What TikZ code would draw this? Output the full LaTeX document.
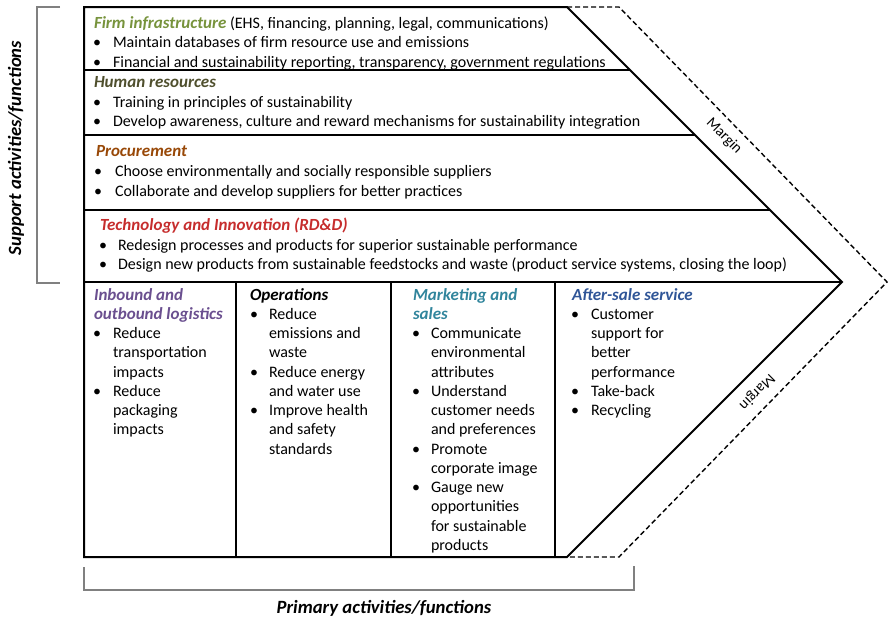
\documentclass[tikz,border=0pt]{standalone}
\usepackage{fontspec}
\setmainfont{Carlito}
\definecolor{cfirm}{HTML}{77933C}
\definecolor{chr}{HTML}{4F4F2D}
\definecolor{cproc}{HTML}{984807}
\definecolor{ctech}{HTML}{C62D2D}
\definecolor{cinb}{HTML}{6A4F8F}
\definecolor{cmkt}{HTML}{31859C}
\definecolor{caft}{HTML}{2F5597}
\definecolor{cbrk}{HTML}{808080}
\newcommand\tlines[5]{\foreach \t [count=\i from 0] in {#5} {\node[txt] (#1\i) at (#2,{#3+#4*\i}) {\t};}}
\newcommand\bulat[4]{\foreach \k in {#4} {\node[bul] (#1b\k) at (#2,{#3+19.25*\k}) {\textbullet};}}
\newcommand\ttlfont{\fontsize{17}{19}\selectfont\bfseries\itshape}
\begin{document}
\begin{tikzpicture}[x=1pt,y=-1pt,
  font=\fontsize{16}{19}\selectfont,
  txt/.style={anchor=base west,inner sep=0pt,outer sep=0pt},
  bul/.style={anchor=base,inner sep=0pt,outer sep=0pt},
  ttl/.style={txt,font=\ttlfont},
  frame/.style={line width=2pt,line join=miter},
  marg/.style={line width=1.4pt,dash pattern=on 5pt off 3pt},
  brk/.style={line width=1.2pt,cbrk},
  lab/.style={inner sep=0pt,font=\fontsize{18.7}{21}\selectfont\bfseries\itshape}]
\useasboundingbox (0,0) rectangle (888,619);
% named corners
\coordinate (tl) at (84,7);
\coordinate (tr) at (567,7);
\coordinate (ap) at (842,282);
\coordinate (br) at (567,557);
\coordinate (bl) at (84,557);
\coordinate (dtr) at (619,7);
\coordinate (dap) at (887,282);
\coordinate (dbr) at (619,557);
% margin dashed outline
\draw[marg] (tr) -- (dtr) -- (dap) -- (dbr) -- (br);
% main frame
\draw[frame] (tl) -- (tr) -- (ap) -- (br) -- (bl) -- cycle;
\coordinate (l1) at (84,70);  \coordinate (r1) at (630,70);
\coordinate (l2) at (84,135); \coordinate (r2) at (695,135);
\coordinate (l3) at (84,210); \coordinate (r3) at (770,210);
\coordinate (l4) at (84,282);
\draw[frame] (l1) -- (r1);
\draw[frame] (l2) -- (r2);
\draw[frame] (l3) -- (r3);
\draw[frame] (l4) -- (ap);
\foreach \x in {236,391,555} {\draw[frame] (\x,282) -- (\x,557);}
% brackets
\coordinate (sb1) at (60,7); \coordinate (sb2) at (37,7);
\coordinate (sb3) at (37,283); \coordinate (sb4) at (60,283);
\draw[brk] (sb1) -- (sb2) -- (sb3) -- (sb4);
\coordinate (pb1) at (84,567); \coordinate (pb2) at (84,590);
\coordinate (pb3) at (634,590); \coordinate (pb4) at (634,566);
\draw[brk] (pb1) -- (pb2) -- (pb3) -- (pb4);
\node[lab,anchor=base,rotate=90] (supp) at (21,148) {Support activities/functions};
\node[lab,anchor=base] (prim) at (384,613) {Primary activities/functions};
% margin labels
\node[inner sep=0pt,rotate=-45,font=\fontsize{15}{17}\selectfont] (m1) at (724,136) {Margin};
\node[inner sep=0pt,rotate=-135,font=\fontsize{15}{17}\selectfont] (m2) at (757,392) {Margin};
% firm infrastructure
\node[txt] (firmT) at (94,28) {\textcolor{cfirm}{\ttlfont Firm infrastructure} (EHS, financing, planning, legal, communications)};
\tlines{firm}{113}{47.5}{19.5}{{Maintain databases of firm resource use and emissions},{Financial and sustainability reporting, transparency, government regulations}}
\foreach \k/\y in {0/47.5,1/67} {\node[bul] (firmb\k) at (97,\y) {\textbullet};}
% human resources
\node[ttl,text=chr] (hrT) at (94,87) {Human resources};
\tlines{hr}{113}{107}{19.5}{{Training in principles of sustainability},{Develop awareness, culture and reward mechanisms for sustainability integration}}
\foreach \k/\y in {0/107,1/126.5} {\node[bul] (hrb\k) at (97,\y) {\textbullet};}
% procurement
\node[ttl,text=cproc] (prT) at (96,156.5) {Procurement};
\tlines{pr}{115}{176.5}{19.5}{{Choose environmentally and socially responsible suppliers},{Collaborate and develop suppliers for better practices}}
\foreach \k/\y in {0/176.5,1/196} {\node[bul] (prb\k) at (98,\y) {\textbullet};}
% technology
\node[ttl,text=ctech] (teT) at (100,230.5) {Technology and Innovation (RD\&D)};
\tlines{te}{118}{250}{19.5}{{Redesign processes and products for superior sustainable performance},{Design new products from sustainable feedstocks and waste (product service systems, closing the loop)}}
\foreach \k/\y in {0/250,1/269.5} {\node[bul] (teb\k) at (103,\y) {\textbullet};}
% inbound
\tlines{inbT}{94}{300}{19.25}{{\ttlfont\color{cinb}Inbound and},{\ttlfont\color{cinb}outbound logistics}}
\tlines{inb}{113}{338.5}{19.25}{{Reduce},{transportation},{impacts},{Reduce},{packaging},{impacts}}
\bulat{inb}{97}{338.5}{0,3}
% operations
\node[ttl] (opT) at (250,300) {Operations};
\tlines{op}{269}{319.25}{19.25}{{Reduce},{emissions and},{waste},{Reduce energy},{and water use},{Improve health},{and safety},{standards}}
\bulat{op}{254}{319.25}{0,3,5}
% marketing
\tlines{mkT}{413}{300}{19.25}{{\ttlfont\color{cmkt}Marketing and},{\ttlfont\color{cmkt}sales}}
\tlines{mk}{431}{338.5}{19.25}{{Communicate},{environmental},{attributes},{Understand},{customer needs},{and preferences},{Promote},{corporate image},{Gauge new},{opportunities},{for sustainable},{products}}
\bulat{mk}{416}{338.5}{0,3,6,8}
% after-sale
\node[ttl,text=caft] (afT) at (572,300) {After-sale service};
\tlines{af}{591}{319.25}{19.25}{{Customer},{support for},{better},{performance},{Take-back},{Recycling}}
\bulat{af}{575}{319.25}{0,4,5}
\end{tikzpicture}
\end{document}
